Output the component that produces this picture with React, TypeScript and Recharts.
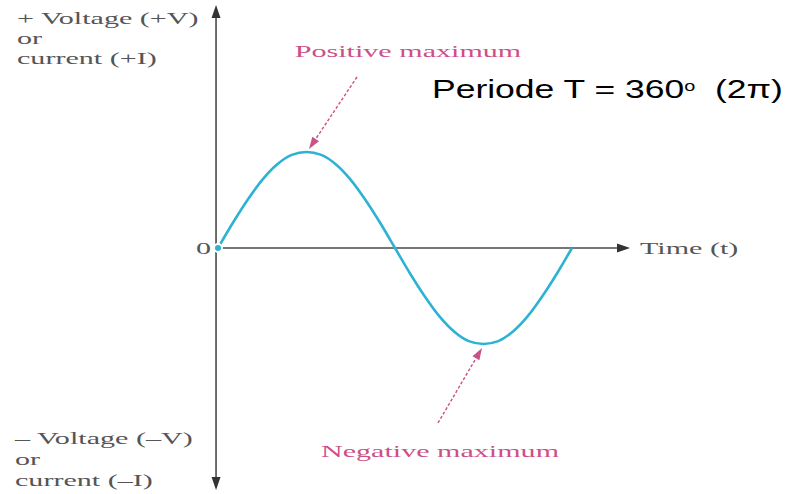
import React from 'react';
import { LineChart, Line, XAxis, YAxis, ReferenceLine } from 'recharts';

// one period of the wave, sampled every 15 degrees (amplitude normalised to 1)
const angles = [0, 15, 30, 45, 60, 75, 90, 105, 120, 135, 150, 165, 180, 195, 210, 225, 240, 255, 270, 285, 300, 315, 330, 345, 360];
const amplitude = [0, 0.26, 0.5, 0.71, 0.87, 0.97, 1, 0.97, 0.87, 0.71, 0.5, 0.26, 0, -0.26, -0.5, -0.71, -0.87, -0.97, -1, -0.97, -0.87, -0.71, -0.5, -0.26, 0];

const topLabels = ['+ Voltage (+V)', 'or', 'current (+I)'];
const bottomLabels = ['– Voltage (–V)', 'or', 'current (–I)'];

const data = angles.map((a, i) => ({ deg: a, v: amplitude[i] }));

const W = 802;
const H = 494;
const AXIS = '#4a4a4a';
const PINK = '#cc4f86';
const SERIF = '"Liberation Serif", "DejaVu Serif", serif';
const SANS = '"Liberation Sans", Arial, sans-serif';
// the figure is drawn wider than tall, so the lettering is stretched too
const STRETCH = 1.72;

// axis line with an arrowhead at its end
const arrowLine = (p: any) => {
  const { x1, y1, x2, y2 } = p;
  const dx = x2 - x1;
  const dy = y2 - y1;
  const len = Math.hypot(dx, dy) || 1;
  const ux = dx / len;
  const uy = dy / len;
  const hl = 13;
  const hw = 4.5;
  const bx = x2 - ux * hl;
  const by = y2 - uy * hl;
  const pts = `${x2},${y2} ${bx - uy * hw},${by + ux * hw} ${bx + uy * hw},${by - ux * hw}`;
  return (
    <g>
      <line x1={x1} y1={y1} x2={bx} y2={by} stroke={AXIS} strokeWidth={1.6} />
      <polygon points={pts} fill="#333" />
    </g>
  );
};

const PinkArrow = ({ x1, y1, x2, y2 }: { x1: number; y1: number; x2: number; y2: number }) => {
  const dx = x2 - x1;
  const dy = y2 - y1;
  const len = Math.hypot(dx, dy);
  const ux = dx / len;
  const uy = dy / len;
  const hl = 12;
  const hw = 4;
  const bx = x2 - ux * hl;
  const by = y2 - uy * hl;
  return (
    <g>
      <line x1={x1} y1={y1} x2={bx} y2={by} stroke={PINK} strokeWidth={1.4} strokeDasharray="3 2" />
      <polygon points={`${x2},${y2} ${bx - uy * hw},${by + ux * hw} ${bx + uy * hw},${by - ux * hw}`} fill={PINK} />
    </g>
  );
};

type TProps = {
  x: number;
  y: number;
  anchor?: 'start' | 'middle' | 'end';
  size?: number;
  stretch?: number;
  family?: string;
  fill?: string;
  children: React.ReactNode;
};

const Stretched = ({ x, y, anchor = 'start', size = 17.5, stretch = STRETCH, family = SERIF, fill = '#555', children }: TProps) => (
  <text
    transform={`translate(${x},${y}) scale(${stretch},1)`}
    textAnchor={anchor}
    fontFamily={family}
    fontSize={size}
    fill={fill}
    style={{ whiteSpace: 'pre' }}
  >
    {children}
  </text>
);

export default function App() {
  return (
    <div style={{ position: 'absolute', left: 0, top: 0, width: W, height: H, background: '#fff' }}>
      <LineChart width={W} height={H} data={data} margin={{ top: 0, right: 0, bottom: 0, left: 0 }}>
        <XAxis dataKey="deg" type="number" domain={[-221.7, 593.9]} allowDataOverflow hide />
        <YAxis type="number" domain={[-2.5625, 2.5833]} allowDataOverflow hide />
        <ReferenceLine segment={[{ x: -2, y: 0 }, { x: -2, y: 2.53 }]} ifOverflow="visible" shape={arrowLine} />
        <ReferenceLine segment={[{ x: -2, y: 0 }, { x: -2, y: -2.52 }]} ifOverflow="visible" shape={arrowLine} />
        <ReferenceLine segment={[{ x: -2, y: 0 }, { x: 419, y: 0 }]} ifOverflow="visible" shape={arrowLine} />
        <Line
          dataKey="v"
          type="monotone"
          stroke="#2eb2d4"
          strokeWidth={2.6}
          dot={false}
          isAnimationActive={false}
        />
      </LineChart>

      <svg width={W} height={H} style={{ position: 'absolute', left: 0, top: 0, pointerEvents: 'none' }}>
        {topLabels.map((t, i) => (
          <Stretched key={t} x={17} y={24 + i * 20}>{t}</Stretched>
        ))}
        {bottomLabels.map((t, i) => (
          <Stretched key={t + i} x={15} y={444 + i * 21}>{t}</Stretched>
        ))}
        <Stretched x={196} y={254}>0</Stretched>
        <Stretched x={640} y={254}>Time (t)</Stretched>
        <Stretched x={408} y={57} anchor="middle" fill={PINK}>Positive maximum</Stretched>
        <Stretched x={440} y={457} anchor="middle" fill={PINK}>Negative maximum</Stretched>
        <PinkArrow x1={357} y1={77} x2={309} y2={149} />
        <PinkArrow x1={438} y1={423} x2={482} y2={348} />
        <Stretched x={432} y={98} size={25} stretch={1.42} family={SANS} fill="#000">
          Periode T = 360
          <tspan fontSize={14} dy={-7}>o</tspan>
          <tspan dy={7}>{'  (2π)'}</tspan>
        </Stretched>
      </svg>
    </div>
  );
}
